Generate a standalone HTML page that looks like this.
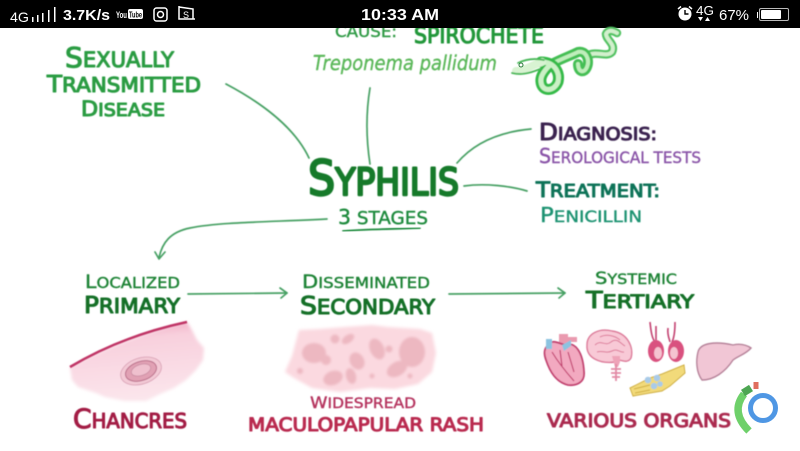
<!DOCTYPE html>
<html><head><meta charset="utf-8"><style>
html,body{margin:0;padding:0;width:800px;height:451px;overflow:hidden;background:#fff}
svg{display:block}
text{font-family:"Liberation Sans",sans-serif;font-weight:bold}
.h,.t{font-family:"DejaVu Sans",sans-serif;font-weight:400;stroke-linejoin:round;paint-order:stroke}
.h{stroke-width:1.100}
.t{stroke-width:.4}
.c{fill:none;stroke-linecap:round;stroke-linejoin:round}
</style></head><body>
<svg width="800" height="451" viewBox="0 0 800 451" xmlns="http://www.w3.org/2000/svg">
<defs><filter id="b" x="-10%" y="-10%" width="120%" height="120%"><feGaussianBlur stdDeviation="0.6"/></filter>
<filter id="bb" x="-10%" y="-10%" width="120%" height="120%"><feGaussianBlur stdDeviation="1.600"/></filter>
<filter id="bc" x="-20%" y="-20%" width="140%" height="140%"><feGaussianBlur stdDeviation="1.300"/></filter>
<linearGradient id="sk" x1=".35" y1="0" x2=".5" y2="1"><stop offset="0" stop-color="#f0a5bf"/><stop offset=".22" stop-color="#f8d0dd"/><stop offset="1" stop-color="#fbe6ec"/></linearGradient></defs>
<rect width="800" height="451" fill="#fff"/>

<g filter="url(#b)">
<text x="335" y="37" class="t" fill="#2f9a45" stroke="#2f9a45" font-size="16" textLength="62" lengthAdjust="spacingAndGlyphs">CAUSE:</text>
<text x="414" y="43" class="h" fill="#21973a" stroke="#21973a" font-size="22" textLength="130" lengthAdjust="spacingAndGlyphs">SPIROCHETE</text>
</g>

<!-- status bar -->
<rect width="800" height="28" fill="#000"/>
<g fill="#fff">
<text x="10" y="22" font-size="14" style="font-weight:400" textLength="19" lengthAdjust="spacingAndGlyphs">4G</text>
<rect x="32" y="17" width="1.500" height="5"/><rect x="37" y="15" width="1.500" height="7"/><rect x="42" y="13" width="1.500" height="9"/><rect x="48" y="10" width="1.500" height="12"/><rect x="54" y="7" width="1.500" height="15"/>
<text x="63" y="20" font-size="15" textLength="47" lengthAdjust="spacingAndGlyphs">3.7K/s</text>
<text x="116" y="18" font-size="9" textLength="11" lengthAdjust="spacingAndGlyphs">You</text>
<rect x="128" y="9" width="15" height="10" rx="2"/><text x="129" y="17.500" font-size="8" fill="#000" textLength="13" lengthAdjust="spacingAndGlyphs">Tube</text>
<text x="361" y="20" font-size="15.500" style="font-weight:700" textLength="78" lengthAdjust="spacingAndGlyphs">10:33 AM</text>
<text x="696" y="15" font-size="12.500" style="font-weight:400" textLength="18" lengthAdjust="spacingAndGlyphs">4G</text>
<path d="M698 17h5l-2.500 4zM705 21h5l-2.500-4z"/>
<text x="719" y="20" font-size="15" style="font-weight:400" textLength="30" lengthAdjust="spacingAndGlyphs">67%</text>
<rect x="761" y="10" width="20" height="9" rx="1"/>
<circle cx="685" cy="14" r="6.500"/>
<rect x="757" y="12" width="1" height="6"/>
</g>
<rect x="759.500" y="8.500" width="29" height="12" rx="1.500" fill="none" stroke="#bbb" stroke-width="1"/>
<path d="M685 10v4h3.500" fill="none" stroke="#000" stroke-width="1.400"/>
<path d="M678 9l3-2.500M692 9l-3-2.500" stroke="#fff" stroke-width="1.500"/>
<g fill="none" stroke="#fff" stroke-width="1.500">
<rect x="154" y="8" width="13" height="13" rx="2.500"/><circle cx="160.500" cy="14.500" r="3"/>
<path d="M179 7l14 2v10h-14z M179 7v-1M193 19h2"/>
</g>
<text x="183" y="18" font-size="9" fill="#fff" style="font-weight:400">S</text>

<!-- connectors -->
<g class="c" stroke="#47a064" stroke-width="1.700" filter="url(#b)">
<path d="M226 84C262 103 295 128 309 158"/>
<path d="M370 88C366 112 366 138 370 164"/>
<path d="M457 163C474 143 498 132 531 129"/>
<path d="M464 186C485 183 510 186 527 191"/>
<path d="M327 219C270 222 220 222 190 228C170 232 162 243 159 258"/>
<path d="M155 252L159 259L165 252"/>
<path d="M188 294L287 293"/>
<path d="M280 288L287 293L281 298"/>
<path d="M449 294L565 293"/>
<path d="M558 288L565 293L559 298"/>
</g>
<path d="M343 231C370 229 395 229 420 228" class="c" stroke="#1f8a3c" stroke-width="1.800" filter="url(#b)"/>

<!-- main texts -->
<g filter="url(#b)">
<text x="65" y="67" class="h" fill="#2a9c43" stroke="#2a9c43" font-size="21" textLength="109" lengthAdjust="spacingAndGlyphs"><tspan font-size="28">S</tspan>EXUALLY</text>
<text x="47" y="92" class="h" fill="#2a9c43" stroke="#2a9c43" font-size="20" textLength="154" lengthAdjust="spacingAndGlyphs"><tspan font-size="23">T</tspan>RANSMITTED</text>
<text x="81" y="116" class="h" fill="#2a9c43" stroke="#2a9c43" font-size="18" textLength="84" lengthAdjust="spacingAndGlyphs"><tspan font-size="21">D</tspan>ISEASE</text>
<text x="313" y="70" class="t" fill="#5cb85a" stroke="#5cb85a" font-size="20" style="font-style:italic" textLength="184" lengthAdjust="spacingAndGlyphs">Treponema pallidum</text>
<text x="308" y="195" class="h" fill="#157a2c" stroke="#157a2c" font-size="37" style="stroke-width:2.400" textLength="151" lengthAdjust="spacingAndGlyphs"><tspan font-size="48">S</tspan>YPHILIS</text>
<text x="338" y="224" class="t" fill="#1f8a3c" stroke="#1f8a3c" font-size="18" textLength="90" lengthAdjust="spacingAndGlyphs"><tspan font-size="20">3</tspan> STAGES</text>
<text x="539" y="140" class="h" fill="#3b2450" stroke="#3b2450" font-size="18" textLength="118" lengthAdjust="spacingAndGlyphs"><tspan font-size="23">D</tspan>IAGNOSIS:</text>
<text x="539" y="163" class="t" fill="#8a55a8" stroke="#8a55a8" font-size="16" textLength="162" lengthAdjust="spacingAndGlyphs"><tspan font-size="20">S</tspan>EROLOGICAL TESTS</text>
<text x="536" y="197" class="h" fill="#0e7358" stroke="#0e7358" font-size="18" textLength="124" lengthAdjust="spacingAndGlyphs"><tspan font-size="21">T</tspan>REATMENT:</text>
<text x="540" y="222" class="t" fill="#1f9372" stroke="#1f9372" font-size="16" textLength="102" lengthAdjust="spacingAndGlyphs"><tspan font-size="20">P</tspan>ENICILLIN</text>

<text x="85" y="288" class="t" fill="#1f8336" stroke="#1f8336" font-size="15" textLength="95" lengthAdjust="spacingAndGlyphs"><tspan font-size="19">L</tspan>OCALIZED</text>
<text x="84" y="313" class="h" fill="#126f27" stroke="#126f27" font-size="20" textLength="96" lengthAdjust="spacingAndGlyphs"><tspan font-size="23">P</tspan>RIMARY</text>
<text x="302" y="288" class="t" fill="#1f8336" stroke="#1f8336" font-size="15" textLength="128" lengthAdjust="spacingAndGlyphs"><tspan font-size="19">D</tspan>ISSEMINATED</text>
<text x="300" y="314" class="h" fill="#126f27" stroke="#126f27" font-size="20" textLength="135" lengthAdjust="spacingAndGlyphs"><tspan font-size="25">S</tspan>ECONDARY</text>
<text x="595" y="284" class="t" fill="#1f8336" stroke="#1f8336" font-size="14" textLength="82" lengthAdjust="spacingAndGlyphs"><tspan font-size="17">S</tspan>YSTEMIC</text>
<text x="586" y="308" class="h" fill="#126f27" stroke="#126f27" font-size="19" textLength="108" lengthAdjust="spacingAndGlyphs"><tspan font-size="23">T</tspan>ERTIARY</text>

<text x="73" y="428" class="h" fill="#a31f45" stroke="#a31f45" font-size="20" textLength="114" lengthAdjust="spacingAndGlyphs"><tspan font-size="27">C</tspan>HANCRES</text>
<text x="310" y="408" class="t" fill="#b5345f" stroke="#b5345f" font-size="14" textLength="106" lengthAdjust="spacingAndGlyphs"><tspan font-size="16">W</tspan>IDESPREAD</text>
<text x="248" y="431" class="h" fill="#b92a50" stroke="#b92a50" font-size="19" textLength="236" lengthAdjust="spacingAndGlyphs">MACULOPAPULAR RASH</text>
<text x="547" y="427" class="h" fill="#ab2a50" stroke="#ab2a50" font-size="19" textLength="184" lengthAdjust="spacingAndGlyphs">VARIOUS ORGANS</text>
</g>

<!-- spirochete -->
<g filter="url(#b)" class="c">
<path d="M586 56C598 50 606 58 612 52C616 44 606 40 606 34C608 30 612 30 617 33" stroke="#53c364" stroke-width="8.500"/>
<path d="M586 56C598 50 606 58 612 52C616 44 606 40 606 34C608 30 612 30 617 33" stroke="#d2f0cd" stroke-width="4"/>
<path d="M548 66C558 60 570 56 578 52C586 50 590 60 587 67C584 74 578 72 578 64" stroke="#45bf55" stroke-width="10"/>
<path d="M548 66C558 60 570 56 578 52C586 50 590 60 587 67C584 74 578 72 578 64" stroke="#bfeebb" stroke-width="4"/>
<path d="M541 62C556 62 560 74 558 82C554 92 542 92 541 82C540 76 545 70 549 66" stroke="#35bb48" stroke-width="11"/>
<path d="M541 62C556 62 560 74 558 82C554 92 542 92 541 82C540 76 545 70 549 66" stroke="#cbf1c6" stroke-width="5"/>
<path d="M516 71C524 71 530 66 542 62" stroke="#d8f3d2" stroke-width="8"/>
<path d="M512 73C520 75 528 74 540 69M518 63C526 59 534 58 544 60" stroke="#46b757" stroke-width="1.800"/>
</g>
<circle cx="521" cy="65" r="2" fill="#fff" stroke="#2a7a3a"/>

<!-- chancre -->
<g>
<path d="M70 367C105 348 145 332 187 322L193 332L197 340L204 348L203 360L196 370L186 380L174 388L160 394L146 401L125 401L105 397L96 393L78 387L72 380Z" fill="url(#sk)" filter="url(#bb)"/>
<g filter="url(#b)">
<path d="M70 367C105 346 145 331 187 322" fill="none" stroke="#c03566" stroke-width="2.500"/>
<ellipse cx="141" cy="371" rx="21" ry="13" transform="rotate(-18 141 371)" fill="#f3c9d5" stroke="#d8a0b4" stroke-width=".8"/>
<ellipse cx="141" cy="371" rx="16" ry="9.500" transform="rotate(-18 141 371)" fill="#e1a1b4" stroke="#b96e8a"/>
<ellipse cx="141" cy="370" rx="10" ry="5.500" transform="rotate(-18 141 370)" fill="#efc0ce" stroke="#c78aa0" stroke-width=".7"/>
</g>
</g>

<!-- rash -->
<g>
<path d="M299 330L320 329L345 327L372 325L388 327L420 329L432 333L436 353L432 372L418 384L395 389L370 388L340 392L312 388L294 378L285 372L292 356Z" fill="#fbd9e0" filter="url(#bb)"/>
<g fill="#edb8c1" filter="url(#bc)">
<ellipse cx="314" cy="353" rx="12" ry="10"/><ellipse cx="326" cy="360" rx="5" ry="5"/>
<ellipse cx="335" cy="339" rx="4.500" ry="4.500"/><ellipse cx="348" cy="339" rx="7" ry="4" transform="rotate(-35 348 339)"/>
<ellipse cx="357" cy="361" rx="7" ry="9" transform="rotate(-30 357 361)"/><ellipse cx="333" cy="378" rx="10" ry="7" transform="rotate(-20 333 378)"/>
<ellipse cx="351" cy="376" rx="5" ry="8" transform="rotate(-15 351 376)"/><ellipse cx="377" cy="349" rx="7" ry="11" transform="rotate(-25 377 349)"/>
<ellipse cx="412" cy="352" rx="13" ry="15"/><ellipse cx="397" cy="369" rx="11" ry="7" transform="rotate(-30 397 369)"/>
<circle cx="389" cy="349" r="3.500"/><circle cx="300" cy="371" r="3"/><circle cx="372" cy="376" r="2.500"/><circle cx="410" cy="376" r="2.500"/>
</g>
</g>

<!-- organs -->
<g filter="url(#b)">
<path d="M559 334h9v14h-9zM567 337h10v5h-10z" fill="#ea9aaf"/>
<path d="M548 345C552 339 558 343 565 345C575 341 583 352 584 372C585 382 577 386 568 385C556 382 550 372 546 360C543 352 545 348 548 345Z" fill="#f2a9c0" stroke="#c2406f" stroke-width="1.800"/>
<path d="M546 339h6v10h-6zM562 345l9-5v6l-7 5z" fill="#8cc3e0"/>
<path d="M552 352C558 362 566 372 574 381M568 352L574 372M560 350L562 366" stroke="#c2406f" stroke-width="1.200" fill="none"/>
<path d="M587 345C587 333 600 328 612 331C628 333 634 348 631 358C626 366 618 356 615 362C600 364 586 358 587 345Z" fill="#f8c9d6" stroke="#dc7898" stroke-width="1.400"/>
<path d="M595 345c6-6 10 2 16-3s10 2 14 4M597 352c6-2 9 2 15-1s8 2 12 1M600 337c6-3 14-2 20 3" stroke="#dc7898" fill="none"/>
<path d="M612 356h8v6l-2 5h-3z" fill="#eea3b8"/>
<path d="M616 364V381M611 369h10M611 373h10M612 377h8" stroke="#e28aa5" stroke-width="1.800" fill="none"/>
<path d="M650 322C651 332 652 338 655 342M656 326V340M675 322C675 332 674 338 672 342M668 328C667 336 670 340 670 342" stroke="#c2406f" stroke-width="1.600" fill="none"/>
<ellipse cx="656" cy="351" rx="8" ry="11" fill="#d9517f"/><ellipse cx="676" cy="351" rx="8" ry="11" fill="#d9517f"/>
<ellipse cx="658" cy="353" rx="4" ry="6" fill="#f5c3d0"/><ellipse cx="674" cy="353" rx="4" ry="6" fill="#f5c3d0"/>
<path d="M630 388L650 378L662 374L684 365L685 373L670 386L662 391L650 393L633 396Z" fill="#f2da7a" stroke="#cfae3f"/>
<path d="M634 389L650 385M635 393L650 390" stroke="#cfae3f" fill="none"/>
<circle cx="648" cy="380" r="3.300" fill="#a9cbe8"/><circle cx="654" cy="386" r="3.300" fill="#a9cbe8"/><circle cx="657" cy="378" r="3.300" fill="#a9cbe8"/><circle cx="660" cy="384" r="2.800" fill="#a9cbe8"/>
<path d="M698 352C700 343 715 341 733 345C742 343 748 346 751 348C746 354 738 356 733 360C725 372 714 380 702 380C696 372 696 360 698 352Z" fill="#f1c6d5" stroke="#b58098" stroke-width="1.400"/>
</g>

<!-- logo -->
<circle cx="763" cy="408" r="12.500" fill="#fff" stroke="#4f97e4" stroke-width="5"/>
<path d="M744 394Q730 412 749 431" fill="none" stroke="#6ed06a" stroke-width="7.500"/>
<path d="M743 393L751 388" stroke="#4da652" stroke-width="7.500"/>
<path d="M756 389V382" stroke="#e06e5f" stroke-width="5"/>
</svg>
</body></html>
